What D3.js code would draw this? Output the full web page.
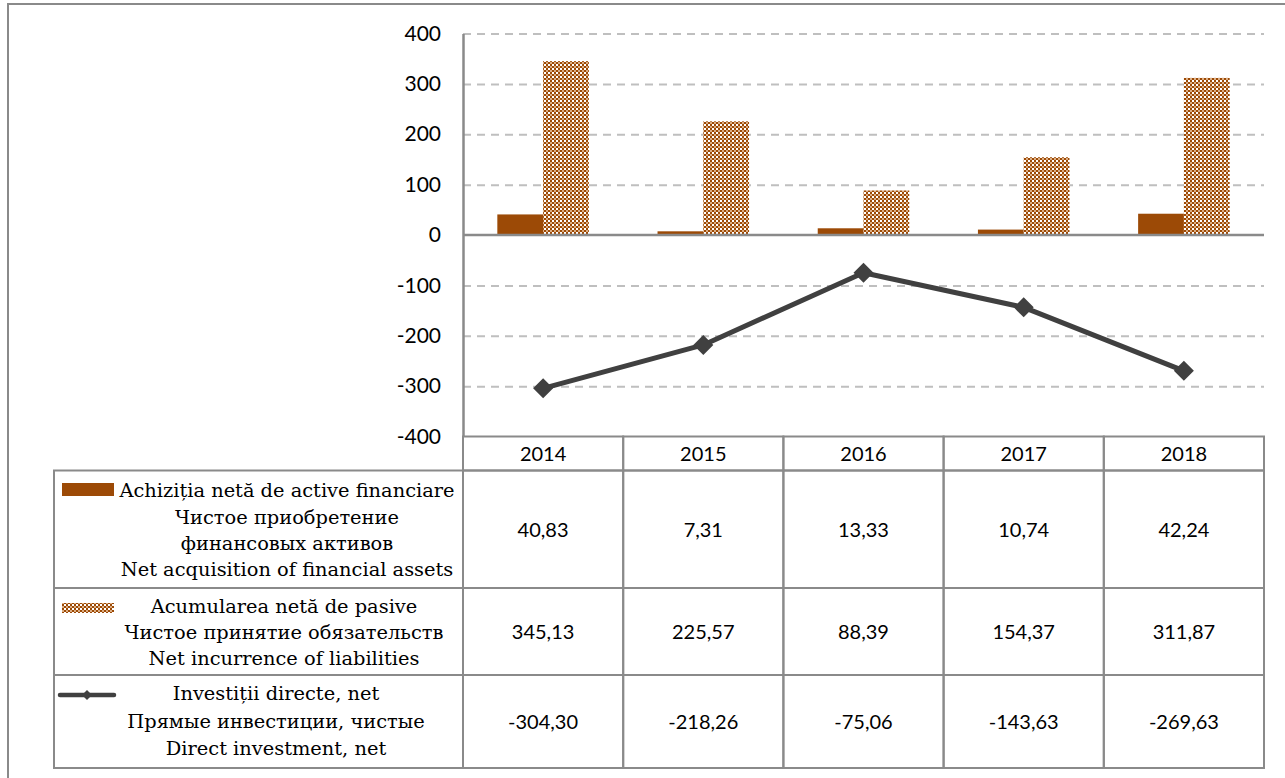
<!DOCTYPE html>
<html>
<head>
<meta charset="utf-8">
<script src="https://cdn.jsdelivr.net/npm/d3@7"></script>
<style>
  html, body { margin: 0; padding: 0; background: #fff; }
  svg { display: block; }
</style>
</head>
<body>
<svg id="chart" width="1285" height="778"></svg>
<script>
// ---------------- data ----------------
const years = ["2014", "2015", "2016", "2017", "2018"];
const acquisition = [40.83, 7.31, 13.33, 10.74, 42.24];
const liabilities = [345.13, 225.57, 88.39, 154.37, 311.87];
const directInvestment = [-304.30, -218.26, -75.06, -143.63, -269.63];
const yTicks = [400, 300, 200, 100, 0, -100, -200, -300, -400];
const labelAcquisition = ["Achiziția netă de active financiare", "Чистое приобретение", "финансовых активов", "Net acquisition of financial assets"];
const labelLiabilities = ["Acumularea netă de pasive", "Чистое принятие обязательств", "Net incurrence of liabilities"];
const labelDirect = ["Investiții directe, net", "Прямые инвестиции, чистые", "Direct investment, net"];

// ---------------- style / layout ----------------
const BROWN = "#9c4a06";
const TAN = "#dcae84";
const LINE = "#404040";
const GRID = "#bfbfbf";
const BORDER = "#8a8a8a";
const NUMFONT = "Lato, 'Open Sans', sans-serif";
const SERIF = "'DejaVu Serif', 'Liberation Serif', serif";

const plotLeft = 463, plotRight = 1264, plotTop = 33.5, plotBottom = 436.5;
const headerBottom = 470.5;
const rowBottoms = [588, 675, 768];
const labelLeft = 54;

const loc = d3.formatLocale({decimal: ",", thousands: " ", grouping: [3], currency: ["", ""], minus: "-"});
const fmt2 = loc.format(".2f");
const fmt0 = loc.format("d");

const svg = d3.select("#chart");

// pattern for liabilities
const defs = svg.append("defs");
const pat = defs.append("pattern").attr("id", "checker").attr("patternUnits", "userSpaceOnUse")
  .attr("x", 0).attr("y", 0).attr("width", 4).attr("height", 4);
pat.append("rect").attr("x", 0).attr("y", 0).attr("width", 4).attr("height", 4).attr("fill", BROWN);
pat.append("rect").attr("x", 0).attr("y", 0).attr("width", 2).attr("height", 2).attr("fill", "#ffffff");
pat.append("rect").attr("x", 2).attr("y", 2).attr("width", 2).attr("height", 2).attr("fill", TAN);

// scales
const x = d3.scaleBand().domain(years).range([plotLeft, plotRight]).paddingInner(0).paddingOuter(0);
const xs = d3.scaleBand().domain([0, 1]).range([0, x.bandwidth()]).paddingInner(0).paddingOuter(0.75);
const y = d3.scaleLinear().domain([-400, 400]).range([plotBottom, plotTop]);

// outer frame
svg.append("path").attr("d", "M8,778 V4 H1285").attr("fill", "none").attr("stroke", BORDER).attr("stroke-width", 2);

// gridlines
const grid = svg.append("g").attr("transform", `translate(${plotLeft},0)`)
  .call(d3.axisLeft(y).tickValues(yTicks.filter(t => t !== 0 && t !== -400)).tickSize(-(plotRight - plotLeft)).tickFormat(""));
grid.select(".domain").remove();
grid.selectAll("line").attr("stroke", GRID).attr("stroke-width", 2).attr("stroke-dasharray", "8,6");

// bars
svg.append("g").selectAll("rect").data(years).join("rect")
  .attr("x", (d) => x(d) + xs(0))
  .attr("width", xs.bandwidth())
  .attr("y", (d, i) => y(Math.max(0, acquisition[i])))
  .attr("height", (d, i) => Math.abs(y(acquisition[i]) - y(0)))
  .attr("fill", BROWN);
svg.append("g").selectAll("rect").data(years).join("rect")
  .attr("x", (d) => x(d) + xs(1))
  .attr("width", xs.bandwidth())
  .attr("y", (d, i) => y(Math.max(0, liabilities[i])))
  .attr("height", (d, i) => Math.abs(y(liabilities[i]) - y(0)))
  .attr("fill", "url(#checker)");

// zero line
svg.append("line").attr("x1", plotLeft).attr("x2", plotRight).attr("y1", y(0)).attr("y2", y(0))
  .attr("stroke", BORDER).attr("stroke-width", 2.5);

// y axis
const yAxis = svg.append("g").attr("transform", `translate(${plotLeft},0)`)
  .call(d3.axisLeft(y).tickValues(yTicks).tickSize(0).tickSizeOuter(0).tickPadding(22).tickFormat(fmt0));
yAxis.select(".domain").attr("stroke", BORDER).attr("stroke-width", 2.5);
yAxis.selectAll("text").attr("font-family", NUMFONT).attr("font-size", 21).attr("fill", "#000");

// line series
const cx = (d) => x(d) + x.bandwidth() / 2;
const lineGen = d3.line().x((d, i) => cx(years[i])).y((d) => y(d));
svg.append("path").datum(directInvestment).attr("d", lineGen)
  .attr("fill", "none").attr("stroke", LINE).attr("stroke-width", 5).attr("stroke-linejoin", "round");
const diamond = d3.symbol(d3.symbolSquare, 200);
svg.append("g").selectAll("path").data(directInvestment).join("path")
  .attr("d", diamond)
  .attr("transform", (d, i) => `translate(${cx(years[i])},${y(d)}) rotate(45)`)
  .attr("fill", LINE);

// ---------------- data table ----------------
const tbl = svg.append("g").attr("fill", "none").attr("stroke", BORDER).attr("stroke-width", 2);
tbl.selectAll("rect.h").data(years).join("rect").attr("class", "h")
  .attr("x", (d) => x(d)).attr("width", x.bandwidth())
  .attr("y", plotBottom).attr("height", headerBottom - plotBottom);
const rowTops = [headerBottom, rowBottoms[0], rowBottoms[1]];
rowTops.forEach((top, r) => {
  const h = rowBottoms[r] - top;
  tbl.append("rect").attr("x", labelLeft).attr("y", top).attr("width", plotLeft - labelLeft).attr("height", h);
  years.forEach((yr) => {
    tbl.append("rect").attr("x", x(yr)).attr("y", top).attr("width", x.bandwidth()).attr("height", h);
  });
});

// year labels
svg.append("g").selectAll("text").data(years).join("text")
  .attr("x", (d) => cx(d)).attr("y", (plotBottom + headerBottom) / 2).attr("dy", "0.35em")
  .attr("text-anchor", "middle").attr("font-family", NUMFONT).attr("font-size", 20).attr("fill", "#000")
  .text((d) => d);

// values
const valueRows = [acquisition, liabilities, directInvestment];
const valueY = [530, 632, 722];
valueRows.forEach((vals, r) => {
  svg.append("g").selectAll("text").data(vals).join("text")
    .attr("x", (d, i) => cx(years[i])).attr("y", valueY[r]).attr("dy", "0.35em")
    .attr("text-anchor", "middle").attr("font-family", NUMFONT).attr("font-size", 20).attr("fill", "#000")
    .text((d) => fmt2(d));
});

// legend labels
const labelRows = [labelAcquisition, labelLiabilities, labelDirect];
const labelCx = [287, 284, 276];
const labelLineY = [[490, 517, 543, 569], [606, 632, 658], [693, 721, 748]];
labelRows.forEach((lines, r) => {
  svg.append("g").selectAll("text").data(lines).join("text")
    .attr("x", labelCx[r]).attr("y", (d, i) => labelLineY[r][i]).attr("dy", "0.35em")
    .attr("text-anchor", "middle").attr("font-family", SERIF).attr("font-size", 19.4).attr("fill", "#000")
    .text((d) => d);
});

// legend keys
svg.append("rect").attr("x", 62).attr("y", 483).attr("width", 52).attr("height", 13).attr("fill", BROWN);
svg.append("rect").attr("x", 62).attr("y", 603).attr("width", 52).attr("height", 10).attr("fill", "url(#checker)");
svg.append("line").attr("x1", 60).attr("x2", 114).attr("y1", 695).attr("y2", 695)
  .attr("stroke", LINE).attr("stroke-width", 4.5).attr("stroke-linecap", "round");
svg.append("path").attr("d", d3.symbol(d3.symbolSquare, 50))
  .attr("transform", "translate(87,695) rotate(45)").attr("fill", LINE);
</script>
</body>
</html>
